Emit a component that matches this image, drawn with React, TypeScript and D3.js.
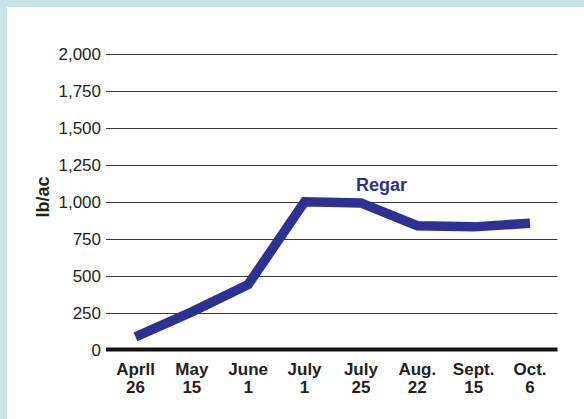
import React from "react";
import * as d3 from "d3";

const categories = ["Aprll|26", "May|15", "June|1", "July|1", "July|25", "Aug.|22", "Sept.|15", "Oct.|6"];
const regarValues = [85, 255, 440, 1000, 992, 838, 830, 855];
const yTicks = [0, 250, 500, 750, 1000, 1250, 1500, 1750, 2000];
const seriesName = "Regar";
const yLabel = "lb/ac";

const W = 584;
const H = 419;
const FONT = "'Liberation Sans', Arial, Helvetica, sans-serif";
const NAVY = "#2e3192";

export default function App() {
  const x = d3.scalePoint<string>().domain(categories).range([135.5, 530]);
  const y = d3.scaleLinear().domain([0, 2000]).range([349.5, 54]);
  const gridX0 = 106;
  const gridX1 = 557.5;

  const line = d3
    .line<number>()
    .x((_, i) => x(categories[i]) as number)
    .y((d) => y(d))
    .curve(d3.curveLinear);

  const fmt = d3.format(",");

  return (
    <svg
      width={W}
      height={H}
      viewBox={`0 0 ${W} ${H}`}
      style={{ position: "absolute", left: 0, top: 0, display: "block" }}
    >
      <rect x={0} y={0} width={W} height={H} fill="#c9e3e6" />
      <rect x={7} y={7} width={W - 7} height={H - 7} fill="#ffffff" />

      {yTicks.map((t) => (
        <g key={t}>
          {t !== 0 && (
            <line
              x1={gridX0}
              x2={gridX1}
              y1={Math.round(y(t)) + 0.5}
              y2={Math.round(y(t)) + 0.5}
              stroke="#3a3a3a"
              strokeWidth={1.2}
            />
          )}
          <text
            x={101}
            y={y(t)}
            dy="0.36em"
            textAnchor="end"
            fontFamily={FONT}
            fontSize={17}
            fill="#231f20"
          >
            {fmt(t)}
          </text>
        </g>
      ))}

      <line x1={gridX0} x2={gridX1} y1={y(0)} y2={y(0)} stroke="#111" strokeWidth={4} />

      <path
        d={line(regarValues) || ""}
        fill="none"
        stroke={NAVY}
        strokeWidth={9.5}
        strokeLinejoin="miter"
        strokeLinecap="butt"
      />

      <text
        x={381.5}
        y={191}
        textAnchor="middle"
        fontFamily={FONT}
        fontWeight="bold"
        fontSize={18}
        fill={NAVY}
      >
        {seriesName}
      </text>

      {categories.map((c) => {
        const [l1, l2] = c.split("|");
        const cx = x(c) as number;
        return (
          <text
            key={c}
            x={cx}
            textAnchor="middle"
            fontFamily={FONT}
            fontWeight="bold"
            fontSize={17}
            fill="#231f20"
          >
            <tspan x={cx} y={375}>{l1}</tspan>
            <tspan x={cx} y={393}>{l2}</tspan>
          </text>
        );
      })}

      <text
        transform={`translate(49,197) rotate(-90)`}
        textAnchor="middle"
        fontFamily={FONT}
        fontWeight="bold"
        fontSize={18}
        fill="#231f20"
      >
        {yLabel}
      </text>
    </svg>
  );
}
